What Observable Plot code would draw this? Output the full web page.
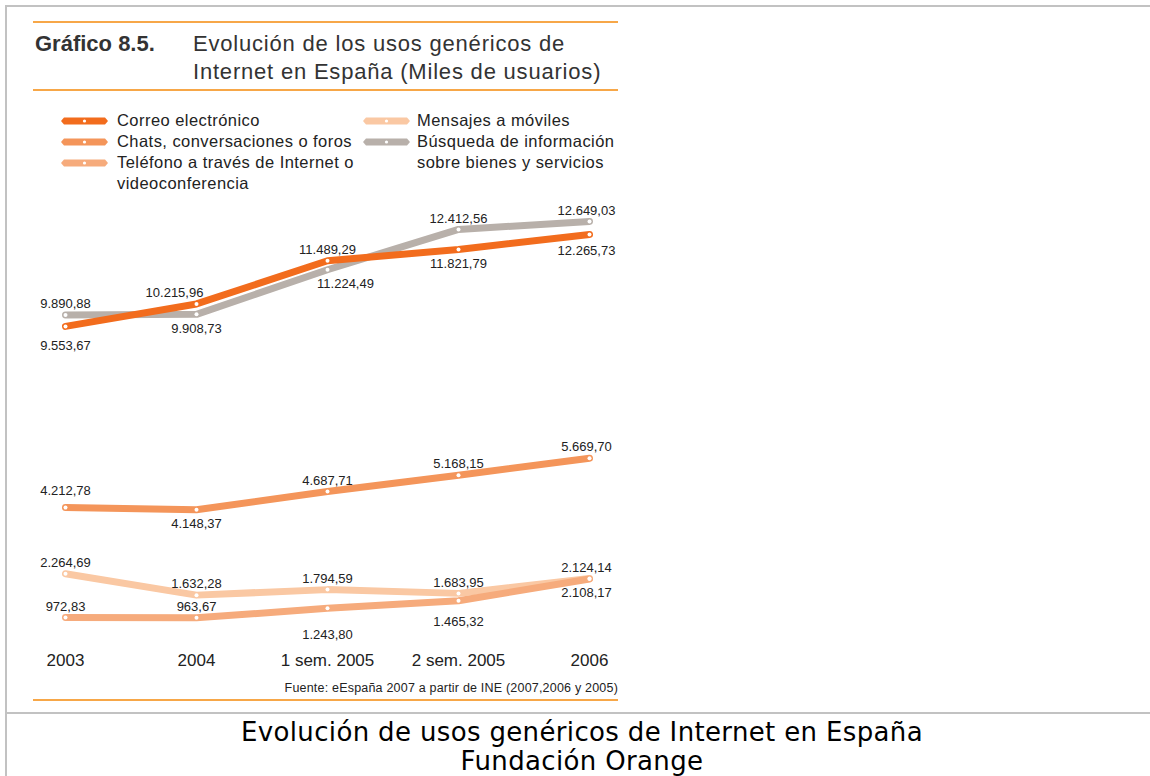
<!DOCTYPE html>
<html>
<head>
<meta charset="utf-8">
<script src="https://cdn.jsdelivr.net/npm/d3@7"></script>
<script src="https://cdn.jsdelivr.net/npm/@observablehq/plot@0.6"></script>
<style>
  html, body { margin: 0; padding: 0; background: #fff; }
  #page { position: relative; width: 1150px; height: 776px; overflow: hidden; font-family: "Liberation Sans", Arial, sans-serif; }
  .abs { position: absolute; }
  .gray { background: #c2c2c2; }
  .rule { background: #f7a748; height: 2px; }
  .leg { position: absolute; font-size: 16.5px; letter-spacing: 0.45px; line-height: 21px; color: #222; white-space: nowrap; }
  .sw { position: absolute; }
  .cap { position: absolute; left: 14px; width: 1136px; text-align: center; font-family: 'DejaVu Sans', Verdana, sans-serif; font-size: 26px; letter-spacing: 0.35px; line-height: 28px; color: #000; white-space: nowrap; }
</style>
</head>
<body>
<div id="page">
  <div class="abs gray" style="left:5px;top:5px;width:1145px;height:2px"></div>
  <div class="abs gray" style="left:5px;top:5px;width:2px;height:771px"></div>
  <div class="abs gray" style="left:5px;top:712px;width:1145px;height:2px"></div>

  <div class="abs rule" style="left:33px;top:21px;width:585px"></div>
  <div class="abs rule" style="left:33px;top:89px;width:585px"></div>
  <div class="abs rule" style="left:33px;top:699px;width:585px"></div>

  <div class="abs" style="left:35px;top:30px;font-size:22px;line-height:28px;font-weight:bold;color:#333">Gráfico 8.5.</div>
  <div class="abs" style="left:193px;top:30px;font-size:22px;letter-spacing:0.8px;line-height:28px;color:#333">Evolución de los usos genéricos de<br>Internet en España (Miles de usuarios)</div>

  <div id="legend"></div>
  <div id="chart" class="abs" style="left:0px;top:190px"></div>

  <div class="abs" style="left:150px;width:468px;top:680px;font-size:12.5px;letter-spacing:0.2px;line-height:16px;text-align:right;color:#222">Fuente: eEspaña 2007 a partir de INE (2007,2006 y 2005)</div>

  <div class="cap" style="top:718px">Evolución de usos genéricos de Internet en España</div>
  <div class="cap" style="top:747px">Fundación Orange</div>
</div>

<script>
// ---------- Data ----------
const categories = ["2003", "2004", "1 sem. 2005", "2 sem. 2005", "2006"];

const correo    = [9553.67, 10215.96, 11489.29, 11821.79, 12265.73];
const chats     = [4212.78, 4148.37, 4687.71, 5168.15, 5669.70];
const telefono  = [972.83, 963.67, 1243.80, 1465.32, 2108.17];
const mensajes  = [2264.69, 1632.28, 1794.59, 1683.95, 2124.14];
const busqueda  = [9890.88, 9908.73, 11224.49, 12412.56, 12649.03];

const seriesNames = [
  "Correo electrónico",
  "Chats, conversaciones o foros",
  "Teléfono a través de Internet o videoconferencia",
  "Mensajes a móviles",
  "Búsqueda de información sobre bienes y servicios"
];
const seriesValues = [correo, chats, telefono, mensajes, busqueda];
const seriesColors = ["#f26c1d", "#f4955a", "#f6ab7c", "#fac8a3", "#b8b0aa"];

// label side per point (above / below the line)
const labelSide = {
  "Correo electrónico": ["below", "above", "above", "below", "below"],
  "Chats, conversaciones o foros": ["above", "below", "above", "above", "above"],
  "Teléfono a través de Internet o videoconferencia": ["above", "above", "below", "below", "below"],
  "Mensajes a móviles": ["above", "above", "above", "above", "above"],
  "Búsqueda de información sobre bienes y servicios": ["above", "below", "below", "above", "above"]
};

// ---------- Build table ----------
const drawOrder = [4, 3, 2, 1, 0];
const rows = [];
for (const s of drawOrder) {
  seriesValues[s].forEach((v, i) => rows.push({serie: seriesNames[s], cat: categories[i], value: v, i, s}));
}

const locale = d3.formatLocale({decimal: ",", thousands: ".", grouping: [3], currency: ["", ""]});
const fmt = locale.format(",.2f");

// label offsets (layout only)
function offset(d) {
  const side = labelSide[d.serie][d.i];
  let dy = side === "above" ? -11 : 14;
  let dx = 0;
  if (d.s === 0 && d.i === 0) dy = 19;
  if (d.s === 0 && d.i === 1) dx = -22;
  if (d.s === 0 && d.i === 4) dy = 16;
  if (d.s === 1 && d.i === 0) dy = -17;
  if (d.s === 2 && d.i === 2) dy = 27;
  if (d.s === 2 && d.i === 3) dy = 21;
  if (d.s === 4 && d.i === 2) dx = 18;
  if (d.i === 4) dx -= 3;
  return [dx, dy];
}
const groups = d3.group(rows, d => offset(d).join(","));
const textMarks = [];
for (const [key, arr] of groups) {
  const [dx, dy] = key.split(",").map(Number);
  textMarks.push(Plot.text(arr, {
    x: "cat", y: "value", text: d => fmt(d.value),
    dx, dy, fontSize: 13, fill: "#222", fontFamily: "Liberation Sans, Arial, sans-serif",
    letterSpacing: "0.9px"
  }));
}

const chart = Plot.plot({
  width: 650,
  height: 490,
  marginLeft: 65,
  marginRight: 61,
  marginTop: 19,
  marginBottom: 30,
  style: {background: "transparent", fontFamily: "Liberation Sans, Arial, sans-serif", overflow: "visible"},
  x: {type: "point", domain: categories, padding: 0},
  y: {domain: [0, 13000], axis: null},
  color: {domain: seriesNames, range: seriesColors},
  marks: [
    Plot.line(rows, {x: "cat", y: "value", z: "serie", stroke: "serie", strokeWidth: 7, strokeLinecap: "round", strokeLinejoin: "round"}),
    Plot.dot(rows, {x: "cat", y: "value", r: 2, fill: "white", stroke: null}),
    ...textMarks,
    Plot.axisX({tickSize: 0, tickPadding: 3, fontSize: 17, label: null, fill: "#222", fontFamily: "Liberation Sans, Arial, sans-serif"})
  ]
});
document.getElementById("chart").appendChild(chart);

// ---------- Legend ----------
const legendLayout = [
  {x: 60, tx: 117, row: 0, lines: ["Correo electrónico"]},
  {x: 60, tx: 117, row: 1, lines: ["Chats, conversaciones o foros"]},
  {x: 60, tx: 117, row: 2, lines: ["Teléfono a través de Internet o", "videoconferencia"]},
  {x: 362, tx: 417, row: 0, lines: ["Mensajes a móviles"]},
  {x: 362, tx: 417, row: 1, lines: ["Búsqueda de información", "sobre bienes y servicios"]}
];
const legend = document.getElementById("legend");
legendLayout.forEach((L, k) => {
  const top = 110 + L.row * 21;
  const sw = document.createElementNS("http://www.w3.org/2000/svg", "svg");
  sw.setAttribute("width", 50); sw.setAttribute("height", 10);
  sw.setAttribute("class", "sw");
  sw.style.left = L.x + "px"; sw.style.top = (top + 6) + "px";
  sw.innerHTML = `<path d="M1,5 L4,1.5 L45,1.5 L48,5 L45,8.5 L4,8.5 Z" fill="${seriesColors[k]}"/><circle cx="24.5" cy="5" r="1.6" fill="white"/>`;
  legend.appendChild(sw);
  const t = document.createElement("div");
  t.className = "leg";
  t.style.left = L.tx + "px"; t.style.top = top + "px";
  t.innerHTML = L.lines.join("<br>");
  legend.appendChild(t);
});
</script>
</body>
</html>
